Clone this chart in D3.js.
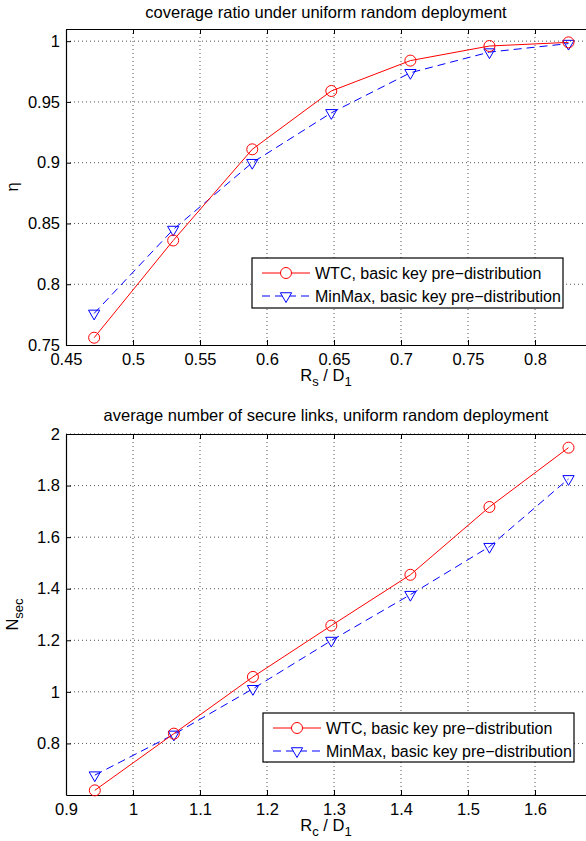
<!DOCTYPE html>
<html>
<head>
<meta charset="utf-8">
<script src="https://cdn.jsdelivr.net/npm/d3@7"></script>
<style>
  body { margin: 0; background: #fff; }
  svg { display: block; font-family: "Liberation Sans", Arial, sans-serif; }
  .grid line { stroke: #555; stroke-dasharray: 1 3; stroke-width: 1; }
</style>
</head>
<body>
<div id="chart"></div>
<script>
// --- data -------------------------------------------------------------------
const legendLabels = ['WTC, basic key pre\u2212distribution', 'MinMax, basic key pre\u2212distribution'];

// coverage ratio (top)
const rsRatio      = [0.471, 0.530, 0.589, 0.648, 0.707, 0.766, 0.825];
const coverageWTC  = [0.756, 0.836, 0.911, 0.959, 0.984, 0.996, 0.999];
const coverageMM   = [0.776, 0.845, 0.900, 0.941, 0.974, 0.991, 0.998];
const topXTicks    = [0.45, 0.5, 0.55, 0.6, 0.65, 0.7, 0.75, 0.8];
const topYTicks    = [0.75, 0.8, 0.85, 0.9, 0.95, 1];

// secure links (bottom)
const rcRatio      = [0.943, 1.061, 1.179, 1.296, 1.414, 1.532, 1.650];
const secureWTC    = [0.618, 0.838, 1.058, 1.257, 1.454, 1.717, 1.947];
const secureMM     = [0.677, 0.835, 1.012, 1.199, 1.377, 1.563, 1.826];
const botXTicks    = [0.9, 1, 1.1, 1.2, 1.3, 1.4, 1.5, 1.6];
const botYTicks    = [0.8, 1, 1.2, 1.4, 1.6, 1.8, 2];

// --- layout -----------------------------------------------------------------
const W = 586, H = 841;
const svg = d3.select('#chart').append('svg').attr('width', W).attr('height', H);

const fmt = d => String(+d.toFixed(3));

function drawPanel(opt) {
  const { top, bottom, left, right } = opt.box;
  const x = d3.scaleLinear().domain(opt.xDomain).range([left, right]);
  const y = d3.scaleLinear().domain(opt.yDomain).range([bottom, top]);
  const g = svg.append('g');

  // grid
  const grid = g.append('g').attr('class', 'grid');
  grid.selectAll('.gx').data(opt.xTicks.filter(t => t > opt.xDomain[0]))
    .enter().append('line')
    .attr('x1', d => x(d)).attr('x2', d => x(d)).attr('y1', top).attr('y2', bottom);
  grid.selectAll('.gy').data(opt.yTicks.filter(t => t > opt.yDomain[0]))
    .enter().append('line')
    .attr('y1', d => y(d)).attr('y2', d => y(d)).attr('x1', left).attr('x2', right);

  // axes (MATLAB style: ticks inward)
  const xAxis = d3.axisBottom(x).tickValues(opt.xTicks).tickFormat(fmt).tickSizeInner(-5).tickSizeOuter(0).tickPadding(8);
  const xAxisTop = d3.axisTop(x).tickValues(opt.xTicks).tickFormat('').tickSizeInner(-5).tickSizeOuter(0);
  const yAxis = d3.axisLeft(y).tickValues(opt.yTicks).tickFormat(fmt).tickSizeInner(-5).tickSizeOuter(0).tickPadding(6);

  [g.append('g').attr('transform', `translate(0,${bottom})`).call(xAxis),
   g.append('g').attr('transform', `translate(0,${top})`).call(xAxisTop),
   g.append('g').attr('transform', `translate(${left},0)`).call(yAxis)]
    .forEach(a => {
      a.select('.domain').attr('stroke', '#000').attr('stroke-width', 1.2);
      a.selectAll('.tick line').attr('stroke', '#000');
      a.selectAll('text').attr('font-size', 16.5).attr('fill', '#000')
        .attr('font-family', '"Liberation Sans", Arial, sans-serif');
    });

  // series
  const line = d3.line().x(d => x(d[0])).y(d => y(d[1]));
  const wtc = opt.xs.map((v, i) => [v, opt.wtc[i]]);
  const mm  = opt.xs.map((v, i) => [v, opt.mm[i]]);

  g.append('path').datum(mm).attr('d', line)
    .attr('fill', 'none').attr('stroke', '#0000ff').attr('stroke-width', 1)
    .attr('stroke-dasharray', '8 5');
  g.append('path').datum(wtc).attr('d', line)
    .attr('fill', 'none').attr('stroke', '#ff0000').attr('stroke-width', 1);

  const tri = d3.symbol().type(d3.symbolTriangle).size(55);
  g.selectAll('.mm').data(mm).enter().append('path')
    .attr('d', tri)
    .attr('transform', d => `translate(${x(d[0])},${y(d[1])}) rotate(180)`)
    .attr('fill', 'none').attr('stroke', '#0000ff').attr('stroke-width', 1);
  g.selectAll('.wtc').data(wtc).enter().append('circle')
    .attr('cx', d => x(d[0])).attr('cy', d => y(d[1])).attr('r', 5.5)
    .attr('fill', 'none').attr('stroke', '#ff0000').attr('stroke-width', 1);

  // title
  g.append('text').attr('x', opt.titleX).attr('y', opt.titleY)
    .attr('text-anchor', 'middle').attr('font-size', 16.5).text(opt.title);

  // x label
  const xl = g.append('text').attr('x', opt.titleX).attr('y', bottom + 36)
    .attr('text-anchor', 'middle').attr('font-size', 16.5);
  xl.append('tspan').text('R');
  xl.append('tspan').attr('dy', 5).attr('font-size', 13).text(opt.xSub);
  xl.append('tspan').attr('dy', -5).text(' / D');
  xl.append('tspan').attr('dy', 5).attr('font-size', 13).text('1');

  // y label
  const yl = g.append('text')
    .attr('transform', `translate(${opt.yLabelX},${(top + bottom) / 2}) rotate(-90)`)
    .attr('text-anchor', 'middle').attr('font-size', 16.5);
  yl.append('tspan').text(opt.yLabel);
  if (opt.ySub) yl.append('tspan').attr('dy', 5).attr('font-size', 13).text(opt.ySub);

  // legend
  const L = opt.legend;
  const lg = g.append('g');
  lg.append('rect').attr('x', L.x).attr('y', L.y).attr('width', L.w).attr('height', L.h)
    .attr('fill', '#fff').attr('stroke', '#000').attr('stroke-width', 1.2);
  [0, 1].forEach(i => {
    const cy = L.y + 15 + i * 23;
    const x0 = L.x + 10, x1 = x0 + 48, mx = (x0 + x1) / 2;
    lg.append('line').attr('x1', x0).attr('x2', x1).attr('y1', cy).attr('y2', cy)
      .attr('stroke', i === 0 ? '#ff0000' : '#0000ff')
      .attr('stroke-dasharray', i === 0 ? null : '8 5');
    if (i === 0) {
      lg.append('circle').attr('cx', mx).attr('cy', cy).attr('r', 5.5)
        .attr('fill', '#fff').attr('stroke', '#ff0000');
    } else {
      lg.append('path').attr('d', tri).attr('transform', `translate(${mx},${cy}) rotate(180)`)
        .attr('fill', '#fff').attr('stroke', '#0000ff');
    }
    lg.append('text').attr('x', x1 + 5).attr('y', cy + 5.5).attr('font-size', 16)
      .text(legendLabels[i]);
  });
}

drawPanel({
  box: { top: 29, bottom: 345, left: 66, right: 602 },
  xDomain: [0.45, 0.85], yDomain: [0.75, 1.01],
  xTicks: topXTicks, yTicks: topYTicks,
  xs: rsRatio, wtc: coverageWTC, mm: coverageMM,
  title: 'coverage ratio under uniform random deployment', titleX: 326, titleY: 18,
  xSub: 's', yLabel: '\u03b7', yLabelX: 18,
  legend: { x: 252, y: 258, w: 311, h: 50 }
});

drawPanel({
  box: { top: 434, bottom: 795, left: 66, right: 602 },
  xDomain: [0.9, 1.7], yDomain: [0.6, 2],
  xTicks: botXTicks, yTicks: botYTicks,
  xs: rcRatio, wtc: secureWTC, mm: secureMM,
  title: 'average number of secure links, uniform random deployment', titleX: 326, titleY: 421,
  xSub: 'c', yLabel: 'N', ySub: 'sec', yLabelX: 18,
  legend: { x: 263, y: 713, w: 311, h: 49 }
});
</script>
</body>
</html>
